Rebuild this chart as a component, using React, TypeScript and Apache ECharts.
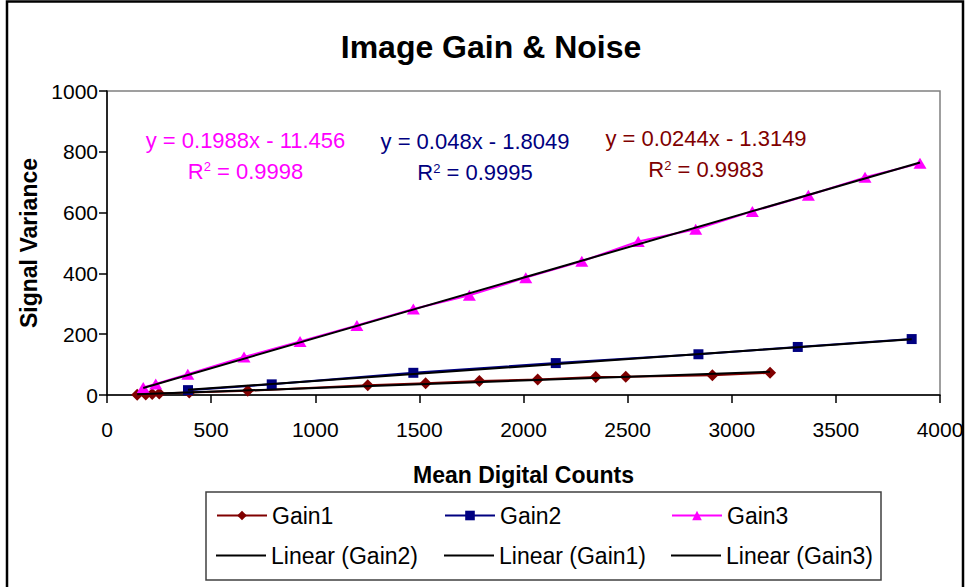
import React, { useEffect, useRef } from "react";
import * as echarts from "echarts";

// Measured series (mean digital counts vs. signal variance)
const gain1X = [145, 186, 217, 251, 395, 676, 1252, 1530, 1788, 2068, 2347, 2491, 2907, 3184];
const gain1Y = [1, 2, 3, 5, 8, 14, 32, 39, 46, 51, 59, 60, 65, 73];

const gain2X = [389, 791, 1471, 2155, 2840, 3317, 3864];
const gain2Y = [16, 35, 73, 105, 134, 158, 184];

const gain3X = [174, 234, 388, 658, 927, 1200, 1471, 1740, 2011, 2280, 2551, 2827, 3099, 3368, 3640, 3904];
const gain3Y = [25, 36, 68, 125, 176, 229, 283, 328, 386, 440, 505, 545, 604, 657, 716, 762];

// Least-squares fits, one per gain setting (Gain1, Gain2, Gain3)
const seriesNames = ["Gain1", "Gain2", "Gain3"];
const trendSlopes = [0.0244, 0.048, 0.1988];
const trendIntercepts = [-1.3149, -1.8049, -11.456];
const trendR2 = ["0.9983", "0.9995", "0.9998"];

const xTicks = { min: 0, max: 4000, interval: 500 };
const yTicks = { min: 0, max: 1000, interval: 200 };

const COLORS = ["#800000", "#000080", "#FF00FF"];
const FONT = '"Liberation Sans", Arial, Helvetica, sans-serif';

const zip = (xs: number[], ys: number[]) => xs.map((x, i) => [x, ys[i]]);

const trendPoints = (xs: number[], k: number) => {
  const lo = Math.min(...xs);
  const hi = Math.max(...xs);
  return [lo, hi].map((x) => [x, trendSlopes[k] * x + trendIntercepts[k]]);
};

const eqText = (k: number) =>
  `y = ${trendSlopes[k]}x ${trendIntercepts[k] < 0 ? "-" : "+"} ${Math.abs(trendIntercepts[k])}`;

export default function App() {
  const ref = useRef<HTMLDivElement>(null);

  useEffect(() => {
    if (!ref.current) return;
    const chart = echarts.init(ref.current, null, { renderer: "svg" });

    const xsAll = [gain1X, gain2X, gain3X];
    const ysAll = [gain1Y, gain2Y, gain3Y];
    const symbols = ["diamond", "rect", "triangle"];
    const symbolSizes: any[] = [[12, 12], 10, [13, 11]];

    const dataSeries = seriesNames.map((name, k) => ({
      type: "line",
      name,
      data: zip(xsAll[k], ysAll[k]),
      symbol: symbols[k],
      symbolSize: symbolSizes[k],
      showSymbol: true,
      color: COLORS[k],
      itemStyle: { color: COLORS[k] },
      lineStyle: { color: COLORS[k], width: 2 },
      z: 2,
    }));

    const trendSeries = seriesNames.map((name, k) => ({
      type: "line",
      name: `Linear (${name})`,
      data: trendPoints(xsAll[k], k),
      symbol: "none",
      color: "#000",
      itemStyle: { color: "#000" },
      lineStyle: { color: "#000", width: 2 },
      z: 3,
    }));

    // Legend laid out as a 3x2 table
    const legendRows = [
      ["Gain1", "Gain2", "Gain3"],
      ["Linear (Gain2)", "Linear (Gain1)", "Linear (Gain3)"],
    ];
    const legendCols = [216, 444, 671];
    const legendTops = [504, 544];
    const legends: any[] = [];
    legendRows.forEach((row, r) =>
      row.forEach((name, c) =>
        legends.push({
          data: r === 0 ? [name] : [{ name, icon: "rect" }],
          left: legendCols[c],
          top: legendTops[r],
          padding: 0,
          itemWidth: 50,
          itemHeight: r === 0 ? 12 : 2,
          selectedMode: false,
          textStyle: { fontSize: 23, color: "#000", fontFamily: FONT },
        })
      )
    );

    // Fit equations
    const eqPos = [
      { x: 706, y1: 138.5, y2: 169.5 },
      { x: 475, y1: 141.5, y2: 172.5 },
      { x: 245.5, y1: 140, y2: 171 },
    ];
    const eqGraphics: any[] = [];
    seriesNames.forEach((_, k) => {
      const p = eqPos[k];
      eqGraphics.push({
        type: "text",
        x: p.x,
        y: p.y1,
        style: {
          text: eqText(k),
          fill: COLORS[k],
          font: `22px ${FONT}`,
          align: "center",
          verticalAlign: "middle",
        },
      });
      eqGraphics.push({
        type: "text",
        x: p.x,
        y: p.y2,
        style: {
          text: `{a|R}{s|2}{a| = ${trendR2[k]}}`,
          align: "center",
          verticalAlign: "middle",
          rich: {
            a: { fill: COLORS[k], fontSize: 22, fontFamily: FONT },
            s: { fill: COLORS[k], fontSize: 13, fontFamily: FONT, verticalAlign: "top" },
          },
        },
      });
    });

    const axisCommon = {
      type: "value",
      nameLocation: "middle",
      nameTextStyle: { fontSize: 23, fontWeight: "bold", color: "#000", fontFamily: FONT },
      axisLine: { show: true, onZero: false, lineStyle: { color: "#000", width: 1.5 } },
      axisTick: { show: true, inside: false, length: 8, lineStyle: { color: "#000", width: 1.5 } },
      splitLine: { show: false },
    };
    const plain = (v: number) => String(v);

    chart.setOption({
      animation: false,
      backgroundColor: "#fff",
      title: {
        text: "Image Gain & Noise",
        left: 491,
        top: 31,
        textAlign: "center",
        padding: 0,
        textStyle: { fontSize: 32, fontWeight: "bold", color: "#000", fontFamily: FONT },
      },
      grid: {
        left: 107,
        right: 31,
        top: 91,
        bottom: 192,
        show: true,
        borderColor: "#808080",
        borderWidth: 1.5,
        backgroundColor: "transparent",
      },
      xAxis: {
        ...axisCommon,
        ...xTicks,
        name: "Mean Digital Counts",
        nameGap: 68,
        axisLabel: { margin: 24, fontSize: 21, color: "#000", fontFamily: FONT, formatter: plain },
      },
      yAxis: {
        ...axisCommon,
        ...yTicks,
        name: "Signal Variance",
        nameGap: 67,
        axisLabel: { margin: 9, fontSize: 21, color: "#000", fontFamily: FONT, formatter: plain },
      },
      legend: legends,
      graphic: [
        {
          type: "rect",
          shape: { x: 7, y: 1.5, width: 956, height: 640 },
          style: { fill: "none", stroke: "#000", lineWidth: 2.5 },
          silent: true,
        },
        {
          type: "rect",
          shape: { x: 206, y: 492, width: 675, height: 88 },
          style: { fill: "none", stroke: "#404040", lineWidth: 1.5 },
          silent: true,
        },
        ...eqGraphics,
      ],
      series: [...dataSeries, ...trendSeries],
    });

    return () => chart.dispose();
  }, []);

  return (
    <div
      ref={ref}
      style={{ position: "absolute", left: 0, top: 0, width: 971, height: 587, background: "#fff" }}
    />
  );
}
